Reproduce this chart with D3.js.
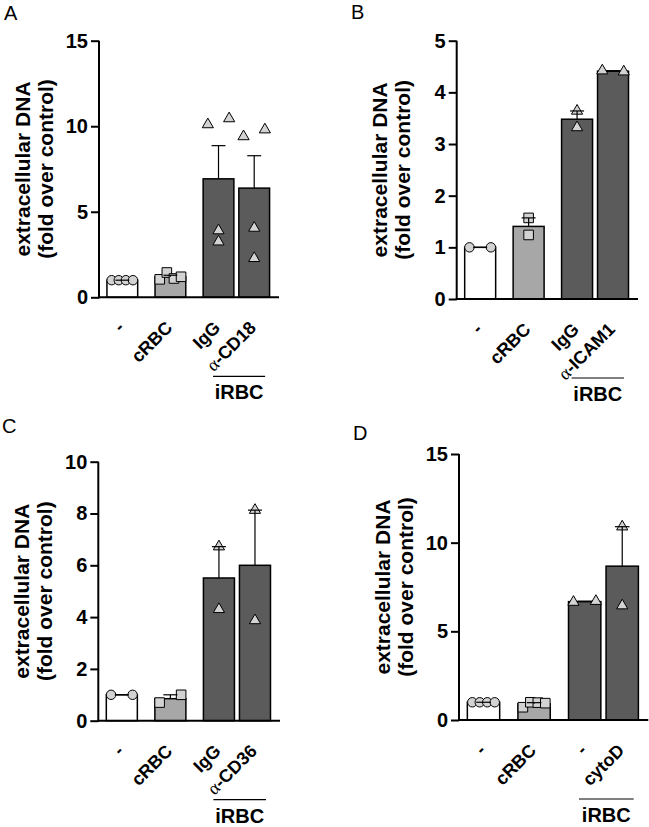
<!DOCTYPE html>
<html><head><meta charset="utf-8">
<script src="https://cdn.jsdelivr.net/npm/d3@7"></script>
<style>body{margin:0;background:#fff} svg{display:block}</style>
</head><body>
<svg id="c" width="649" height="827"></svg>
<script>
// ---------- data ----------
const catsA = ["-", "cRBC", "IgG", "α-CD18"];
const ptsA = [[1,1,1,1],[1.05,1.45,1.1,1.2],[10.1,10.45,3.9,3.25],[9.4,9.8,4.05,2.28]];
const ticksA = [0,5,10,15];

const catsB = ["-", "cRBC", "IgG", "α-ICAM1"];
const ptsB = [[1,1],[1.57,1.24],[3.64,3.32],[4.42,4.40]];
const ticksB = [0,1,2,3,4,5];

const catsC = ["-", "cRBC", "IgG", "α-CD36"];
const ptsC = [[1,1],[0.70,1.0],[6.72,4.30],[8.13,3.87]];
const ticksC = [0,2,4,6,8,10];

const catsD = ["-", "cRBC", "-", "cytoD"];
const ptsD = [[1,1,1,1],[0.72,1.0,0.98,0.95],[6.65,6.7],[10.9,6.45]];
const ticksD = [0,5,10,15];

const groupLabel = "iRBC";
const yTitle = ["extracellular DNA", "(fold over control)"];
const panelLetters = ["A","B","C","D"];

// ---------- styles / layout ----------
const barFills = ["#ffffff", "#a7a7a7", "#5b5b5b", "#5b5b5b"];
const symbols = [d3.symbolCircle, d3.symbolSquare, d3.symbolTriangle, d3.symbolTriangle];
const symSizes = [70, 92, 54, 54];
const markerFill = "#d3d3d3";
const SANS = "'Liberation Sans', Arial, Helvetica, sans-serif";
const SERIF = "'Liberation Serif', 'DejaVu Serif', serif";

const panels = [
  {cats: catsA, pts: ptsA, ticks: ticksA, lx: 4,   ly: 20,  ax: 99,    y0: 297.3, yT: 40.7,  xE: 279},
  {cats: catsB, pts: ptsB, ticks: ticksB, lx: 351, ly: 18.5,ax: 456.7, y0: 299,   yT: 40.7,  xE: 638},
  {cats: catsC, pts: ptsC, ticks: ticksC, lx: 2,   ly: 433, ax: 98.3,  y0: 720.7, yT: 461.7, xE: 280},
  {cats: catsD, pts: ptsD, ticks: ticksD, lx: 353, ly: 440, ax: 459,   y0: 720,   yT: 454,   xE: 648.3}
];

// layout units along the x axis
const U = {pad: 8, bar: 31, gap: 17.5, inner: 5, end: 9.5};
const lefts = [U.pad, U.pad + U.bar + U.gap, U.pad + 2*(U.bar + U.gap), U.pad + 3*U.bar + 2*U.gap + U.inner];
const totalU = lefts[3] + U.bar + U.end;

const svg = d3.select("#c");

function swarm(vals, y, thr, W) {
  const idx = vals.map((v,i)=>i).sort((a,b)=>vals[a]-vals[b]);
  const groups = []; let cur = [idx[0]];
  for (let j = 1; j < idx.length; j++) {
    if (Math.abs(y(vals[idx[j]]) - y(vals[idx[j-1]])) < thr) cur.push(idx[j]);
    else { groups.push(cur); cur = [idx[j]]; }
  }
  groups.push(cur);
  const off = new Array(vals.length).fill(0);
  groups.forEach(g => {
    if (g.length > 1) {
      g.sort((a,b)=>a-b);
      g.forEach((p,i) => off[p] = -W/2 + W*i/(g.length-1));
    }
  });
  return off;
}

panels.forEach((P, pi) => {
  const g = svg.append("g");
  const xs = d3.scaleLinear().domain([0, totalU]).range([P.ax, P.xE]);
  const k = (P.xE - P.ax) / totalU;
  const y = d3.scaleLinear().domain([0, d3.max(P.ticks)]).range([P.y0, P.yT]);
  const bw = U.bar * k;

  const stats = P.pts.map(v => {
    const m = d3.mean(v);
    const sem = v.length > 1 ? d3.deviation(v) / Math.sqrt(v.length) : 0;
    return {m, sem};
  });
  const cx = i => xs(lefts[i]) + bw/2;

  // panel letter
  g.append("text").attr("x", P.lx).attr("y", P.ly)
    .attr("font-family", SANS).attr("font-size", 20).text(panelLetters[pi]);

  // bars
  g.selectAll("rect.bar").data(stats).join("rect")
    .attr("x", (d,i) => xs(lefts[i]))
    .attr("width", bw)
    .attr("y", d => y(d.m))
    .attr("height", d => P.y0 - y(d.m))
    .attr("fill", (d,i) => barFills[i])
    .attr("stroke", "#000").attr("stroke-width", 1.5);

  // points
  P.pts.forEach((vals, i) => {
    const off = swarm(vals, y, 10, 21.5 * k);
    g.selectAll(null).data(vals).join("path")
      .attr("transform", (v,j) => `translate(${cx(i) + off[j]},${y(v)})`)
      .attr("d", d3.symbol().type(symbols[i]).size(symSizes[i]))
      .attr("fill", markerFill).attr("stroke", "#000").attr("stroke-width", 1);
  });

  // error bars (mean + SEM, upward)
  stats.forEach((d, i) => {
    const yt = y(d.m + d.sem);
    g.append("line").attr("x1", cx(i)).attr("x2", cx(i))
      .attr("y1", y(d.m)).attr("y2", yt).attr("stroke", "#000").attr("stroke-width", 1.2);
    g.append("line").attr("x1", cx(i) - 7*k).attr("x2", cx(i) + 7*k)
      .attr("y1", yt).attr("y2", yt).attr("stroke", "#000").attr("stroke-width", 1.2);
  });

  // y axis
  const yAxis = d3.axisLeft(y).tickValues(P.ticks).tickSize(8).tickSizeOuter(0).tickPadding(3).tickFormat(d3.format("d"));
  const ag = g.append("g").attr("transform", `translate(${P.ax},0)`).call(yAxis);
  ag.select(".domain").attr("stroke-width", 2).attr("d", `M0,${P.yT}V${P.y0 + 1}`);
  ag.selectAll(".tick line").attr("stroke-width", 2);
  ag.selectAll(".tick text").attr("font-family", SANS).attr("font-weight", "bold")
    .attr("font-size", 20).attr("fill", "#000");

  // x axis line
  g.append("line").attr("x1", P.ax - 1).attr("x2", P.xE).attr("y1", P.y0).attr("y2", P.y0)
    .attr("stroke", "#000").attr("stroke-width", 2);

  // x labels (rotated)
  P.cats.forEach((c, i) => {
    const lg = g.append("g").attr("transform", `translate(${cx(i) + 3*k},${P.y0 + 31.5})`);
    const t = lg.append("text").attr("transform", "rotate(-45)")
      .attr("text-anchor", "end").attr("font-family", SANS).attr("font-weight", "bold").attr("font-size", 18);
    if (c.startsWith("α")) {
      t.append("tspan").attr("font-family", SERIF).attr("font-weight", "normal").text("α");
      t.append("tspan").text(c.slice(1));
    } else t.text(c);
  });

  // group line + label
  const lx1 = cx(2) - 5.5*k, lx2 = cx(3) + 11*k, ly = P.y0 + 79;
  g.append("line").attr("x1", lx1).attr("x2", lx2).attr("y1", ly).attr("y2", ly)
    .attr("stroke", "#000").attr("stroke-width", 1.2);
  g.append("text").attr("x", (lx1 + lx2)/2).attr("y", ly + 23).attr("text-anchor", "middle")
    .attr("font-family", SANS).attr("font-weight", "bold").attr("font-size", 20).text(groupLabel);

  // y title
  const ym = (P.y0 + P.yT) / 2;
  [P.ax - 69.5, P.ax - 46.5].forEach((xx, li) => {
    g.append("text").attr("transform", `translate(${xx},${ym}) rotate(-90)`)
      .attr("text-anchor", "middle").attr("font-family", SANS).attr("font-weight", "bold")
      .attr("font-size", 21).text(yTitle[li]);
  });
});
</script>
</body></html>
